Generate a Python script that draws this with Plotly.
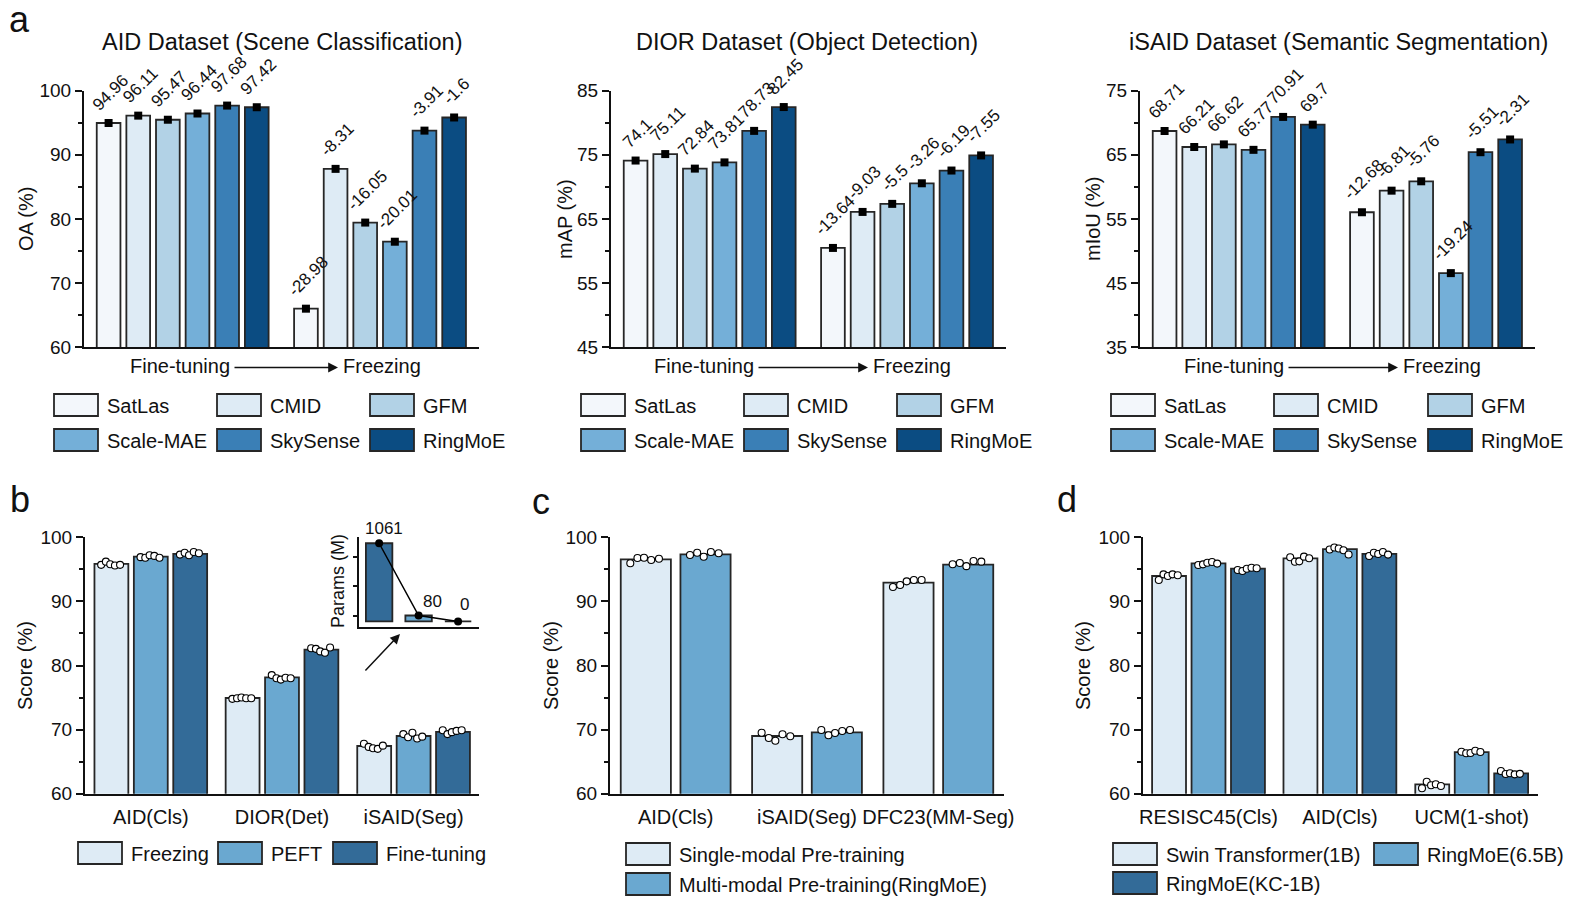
import plotly.graph_objects as go

# ---- data ---------------------------------------------------------------
MODELS = ["SatLas", "CMID", "GFM", "Scale-MAE", "SkySense", "RingMoE"]

AID_FT = [94.96, 96.11, 95.47, 96.44, 97.68, 97.42]
AID_DROP = [-28.98, -8.31, -16.05, -20.01, -3.91, -1.6]
DIOR_FT = [74.1, 75.11, 72.84, 73.81, 78.73, 82.45]
DIOR_DROP = [-13.64, -9.03, -5.5, -3.26, -6.19, -7.55]
ISAID_FT = [68.71, 66.21, 66.62, 65.77, 70.91, 69.7]
ISAID_DROP = [-12.68, -6.81, -5.76, -19.24, -5.51, -2.31]

B_TASKS = ["AID(Cls)", "DIOR(Det)", "iSAID(Seg)"]
B_METHODS = ["Freezing", "PEFT", "Fine-tuning"]
B_FREEZING = [95.84, 74.93, 67.44]
B_PEFT = [96.97, 78.16, 69.0]
B_FINETUNE = [97.4, 82.47, 69.63]
B_FREEZING_RUNS = [[95.7, 96.2, 95.8, 95.6, 95.7], [74.8, 74.9, 75.0, 74.9, 74.9],
                   [67.8, 67.3, 67.1, 67.0, 67.5]]
B_PEFT_RUNS = [[96.9, 96.8, 97.2, 97.1, 96.8], [78.5, 78.0, 77.8, 78.1, 78.0],
               [69.3, 68.8, 69.5, 68.6, 68.9]]
B_FINETUNE_RUNS = [[97.3, 97.6, 97.2, 97.7, 97.5], [82.7, 82.6, 82.2, 82.0, 82.8],
                   [69.9, 69.3, 69.6, 69.8, 69.9]]

PARAM_METHODS = ["Fine-tuning", "PEFT", "Freezing"]
PARAMS_M = [1061, 80, 0]

C_TASKS = ["AID(Cls)", "iSAID(Seg)", "DFC23(MM-Seg)"]
C_METHODS = ["Single-modal Pre-training", "Multi-modal Pre-training(RingMoE)"]
C_SINGLE = [96.57, 69.0, 92.92]
C_MULTI = [97.35, 69.58, 95.73]
C_SINGLE_RUNS = [[95.95, 96.77, 96.82, 96.46, 96.66], [69.52, 68.69, 68.27, 69.27, 68.96],
                 [92.25, 92.56, 93.13, 93.34, 93.34]]
C_MULTI_RUNS = [[97.24, 97.6, 96.97, 97.7, 97.5], [69.94, 69.11, 69.47, 69.78, 69.94],
                [95.8, 96.0, 95.5, 96.3, 96.2]]

D_TASKS = ["RESISC45(Cls)", "AID(Cls)", "UCM(1-shot)"]
D_METHODS = ["Swin Transformer(1B)", "RingMoE(6.5B)", "RingMoE(KC-1B)"]
D_SWIN = [93.96, 96.72, 61.47]
D_RING65 = [95.94, 98.17, 66.5]
D_RINGKC = [95.1, 97.4, 63.18]
D_SWIN_RUNS = [[93.33, 94.22, 93.96, 94.22, 94.07], [96.88, 96.19, 96.25, 96.98, 96.72],
               [60.84, 61.87, 61.31, 61.47, 61.2]]
D_RING65_RUNS = [[95.67, 95.78, 96.04, 96.15, 95.9], [98.1, 98.41, 98.26, 97.99, 97.31],
                 [66.55, 66.3, 66.35, 66.71, 66.5]]
D_RINGKC_RUNS = [[94.9, 94.74, 95.1, 95.26, 95.16], [97.08, 97.6, 97.4, 97.7, 97.3],
                 [63.54, 63.07, 63.18, 63.02, 63.1]]

# ---- style --------------------------------------------------------------
W, H = 1578, 907
FONT = "Arial, 'Liberation Sans', Helvetica, sans-serif"
INK = "#111111"
EDGE = "#262626"
MODEL_COLORS = ["#f3f7fb", "#deebf5", "#b2d2e6", "#74afd8", "#3a7fb6", "#0b4c82"]
METHOD_COLORS = ["#deebf5", "#6aa8d0", "#336b98"]
JITTER = [-0.26, -0.14, -0.03, 0.09, 0.22]

fig = go.Figure()
annotations = []
shapes = []


def names(n):
    s = "" if n == 1 else str(n)
    return "xaxis" + s, "yaxis" + s, "x" + s, "y" + s


def style_axes(n, xpx, ypx, xr, yr, tick0, dtick, tickvals=None, ticktext=None):
    xa, ya, xs, ys = names(n)
    fig.update_layout({
        xa: dict(domain=[xpx[0] / W, xpx[1] / W], range=xr, anchor=ys,
                 automargin=False, showline=True, linecolor=INK, linewidth=2,
                 showgrid=False, zeroline=False, ticks="", tickvals=tickvals or [],
                 ticktext=ticktext or [], showticklabels=tickvals is not None,
                 tickfont=dict(size=20), ticklabelstandoff=4),
        ya: dict(domain=[1 - ypx[1] / H, 1 - ypx[0] / H], range=yr, anchor=xs,
                 automargin=False, showline=True, linecolor=INK, linewidth=2,
                 showgrid=False, zeroline=False, ticks="outside", ticklen=7,
                 tickwidth=2, tickcolor=INK, tick0=tick0, dtick=dtick,
                 tickfont=dict(size=19),
                 minor=dict(ticks="outside", ticklen=4, tickwidth=1.5,
                            tickcolor=INK, dtick=dtick / 2, tick0=tick0)),
    })


def text(x, y, s, size=20, xanchor="center", yanchor="middle", angle=0):
    annotations.append(dict(x=x / W, y=1 - y / H, xref="paper", yref="paper",
                            text=s, showarrow=False, xanchor=xanchor,
                            yanchor=yanchor, textangle=angle,
                            font=dict(size=size, color=INK)))


def legend(items, colors, spots):
    for name, col, (sx, sy) in zip(items, colors, spots):
        shapes.append(dict(type="rect", xref="paper", yref="paper",
                           x0=sx / W, x1=(sx + 44) / W,
                           y0=1 - (sy + 22) / H, y1=1 - sy / H,
                           fillcolor=col, line=dict(color=EDGE, width=1.8)))
        text(sx + 51, sy + 11.5, name, xanchor="left")


# ---- panel a ------------------------------------------------------------
A_POS = [i for i in range(6)] + [6.66 + i for i in range(6)]
panel_a = [
    (1, "AID Dataset (Scene Classification)", "OA (%)", AID_FT, AID_DROP,
     [60, 100], 84, 282, 26, [54, 217, 370], (233, 338)),
    (2, "DIOR Dataset (Object Detection)", "mAP (%)", DIOR_FT, DIOR_DROP,
     [45, 85], 611, 807, 565, [581, 744, 897], (757, 868)),
    (3, "iSAID Dataset (Semantic Segmentation)", "mIoU (%)", ISAID_FT, ISAID_DROP,
     [35, 75], 1140, 1338, 1093, [1111, 1274, 1428], (1287, 1398)),
]

for n, title, ytitle, ft, drop, yr, left, tx, ytx, lcols, arrow in panel_a:
    _, _, xs, ys = names(n)
    frz = [round(a + d, 2) for a, d in zip(ft, drop)]
    vals = ft + frz
    fig.add_trace(go.Bar(x=A_POS, y=vals, width=0.8, xaxis=xs, yaxis=ys,
                         marker=dict(color=MODEL_COLORS * 2,
                                     line=dict(color=EDGE, width=1.8))))
    fig.add_trace(go.Scatter(x=A_POS, y=vals, mode="markers", xaxis=xs, yaxis=ys,
                             cliponaxis=False,
                             marker=dict(symbol="square", size=8, color="black")))
    labels = [f"{v:g}" for v in ft] + [f"{d:g}" for d in drop]
    for x, v, lab in zip(A_POS, vals, labels):
        annotations.append(dict(x=x, y=v, xref=xs, yref=ys, text=lab, showarrow=False,
                                textangle=-45, xanchor="center", yanchor="bottom",
                                yshift=6, xshift=2, font=dict(size=17, color=INK)))
    style_axes(n, (left, left + 395), (90.7, 347), [-0.83, 12.5], yr, yr[0], 10)
    text(tx, 42, title, size=23.5)
    text(ytx, 219, ytitle, angle=-90)
    a0, a1 = arrow
    text(a0 - 1, 366, "Fine-tuning", xanchor="right")
    text(a1 + 3, 366, "Freezing", xanchor="left")
    annotations.append(dict(x=a1 / W, y=1 - 367.5 / H, xref="paper", yref="paper",
                            ax=-(a1 - a0), ay=0, text="", showarrow=True,
                            arrowhead=2, arrowsize=1.4, arrowwidth=1.4,
                            arrowcolor=INK))
    spots = [(lcols[i % 3], 394 if i < 3 else 429) for i in range(6)]
    legend(MODELS, MODEL_COLORS, spots)


# ---- panels b, c, d -----------------------------------------------------
def grouped(n, starts, series, runs, colors, width):
    _, _, xs, ys = names(n)
    for k, (vals, pts, col) in enumerate(zip(series, runs, colors)):
        xpos = [s + k for s in starts]
        fig.add_trace(go.Bar(x=xpos, y=vals, width=width, xaxis=xs, yaxis=ys,
                             marker=dict(color=col, line=dict(color=EDGE, width=1.8))))
        dx, dy = [], []
        for xc, p in zip(xpos, pts):
            dx += [xc + j for j in JITTER[:len(p)]]
            dy += p
        fig.add_trace(go.Scatter(x=dx, y=dy, mode="markers", xaxis=xs, yaxis=ys,
                                 cliponaxis=False,
                                 marker=dict(symbol="circle", size=7, color="white",
                                             line=dict(color="black", width=1.1))))


B_STARTS = [0, 3.33, 6.67]
grouped(4, B_STARTS, [B_FREEZING, B_PEFT, B_FINETUNE],
        [B_FREEZING_RUNS, B_PEFT_RUNS, B_FINETUNE_RUNS], METHOD_COLORS, 0.86)
style_axes(4, (85, 479), (537.3, 793.7), [-0.67, 9.33], [60, 100], 60, 10,
           tickvals=[s + 1 for s in B_STARTS], ticktext=B_TASKS)
text(25, 666, "Score (%)", angle=-90)
legend(B_METHODS, METHOD_COLORS, [(78, 842), (218, 842), (333, 842)])

C_STARTS = [0, 2.2, 4.4]
grouped(5, C_STARTS, [C_SINGLE, C_MULTI], [C_SINGLE_RUNS, C_MULTI_RUNS],
        METHOD_COLORS[:2], 0.84)
style_axes(5, (610, 1004), (537.3, 793.7), [-0.6, 6.0], [60, 100], 60, 10,
           tickvals=[s + 0.5 for s in C_STARTS], ticktext=C_TASKS)
text(551, 666, "Score (%)", angle=-90)
legend(C_METHODS, METHOD_COLORS[:2], [(626, 843), (626, 873)])

grouped(6, B_STARTS, [D_SWIN, D_RING65, D_RINGKC],
        [D_SWIN_RUNS, D_RING65_RUNS, D_RINGKC_RUNS], METHOD_COLORS, 0.86)
style_axes(6, (1143, 1538), (537.3, 793.7), [-0.66, 9.35], [60, 100], 60, 10,
           tickvals=[s + 1 for s in B_STARTS], ticktext=D_TASKS)
text(1083, 666, "Score (%)", angle=-90)
legend(D_METHODS, METHOD_COLORS, [(1113, 843), (1374, 843), (1113, 872)])

# ---- inset: trainable parameters ----------------------------------------
fig.add_trace(go.Bar(x=[0, 1, 2], y=PARAMS_M, width=0.67, xaxis="x7", yaxis="y7",
                     marker=dict(color=METHOD_COLORS[::-1],
                                 line=dict(color=EDGE, width=1.8))))
fig.add_trace(go.Scatter(x=[0, 1, 2], y=PARAMS_M, mode="lines+markers",
                         xaxis="x7", yaxis="y7", cliponaxis=False,
                         line=dict(color="black", width=1.5),
                         marker=dict(size=8, color="black")))
fig.update_layout(
    xaxis7=dict(domain=[359 / W, 479 / W], range=[-0.51, 2.53], anchor="y7",
                automargin=False, showline=True, linecolor=INK, linewidth=2,
                showgrid=False, zeroline=False, showticklabels=False, ticks=""),
    yaxis7=dict(domain=[1 - 627.3 / H, 1 - 536.7 / H], range=[-80, 1150], anchor="x7",
                automargin=False, showline=True, linecolor=INK, linewidth=2,
                showgrid=False, zeroline=False, showticklabels=False,
                ticks="outside", ticklen=4, tickwidth=1.5, tickcolor=INK,
                tickvals=[80, 480, 880]),
)
for x, v, dx, dy in zip([0, 1, 2], PARAMS_M, [5, 14, 6], [3, 3, 5]):
    annotations.append(dict(x=x, y=v, xref="x7", yref="y7", text=str(v),
                            showarrow=False, yanchor="bottom", xshift=dx, yshift=dy,
                            font=dict(size=17, color=INK)))
text(338, 581, "Params (M)", size=18, angle=-90)
annotations.append(dict(x=400 / W, y=1 - 634 / H, xref="paper", yref="paper",
                        ax=-36, ay=38, text="", showarrow=True, arrowhead=2,
                        arrowsize=1.3, arrowwidth=1.5, arrowcolor=INK))

# ---- panel letters ------------------------------------------------------
for lx, ly, s in [(19, 20, "a"), (20, 499, "b"), (541, 501, "c"), (1067, 499, "d")]:
    text(lx, ly, s, size=36)

fig.update_layout(
    width=W, height=H, margin=dict(l=0, r=0, t=0, b=0),
    paper_bgcolor="white", plot_bgcolor="rgba(0,0,0,0)",
    font=dict(family=FONT, color=INK, size=19),
    showlegend=False, annotations=annotations, shapes=shapes,
)

# page has a default 8px body margin; drop it so the figure fills the window
fig.write_html("out.html", config={"displayModeBar": False},
               post_script="document.body.style.margin='0';")
